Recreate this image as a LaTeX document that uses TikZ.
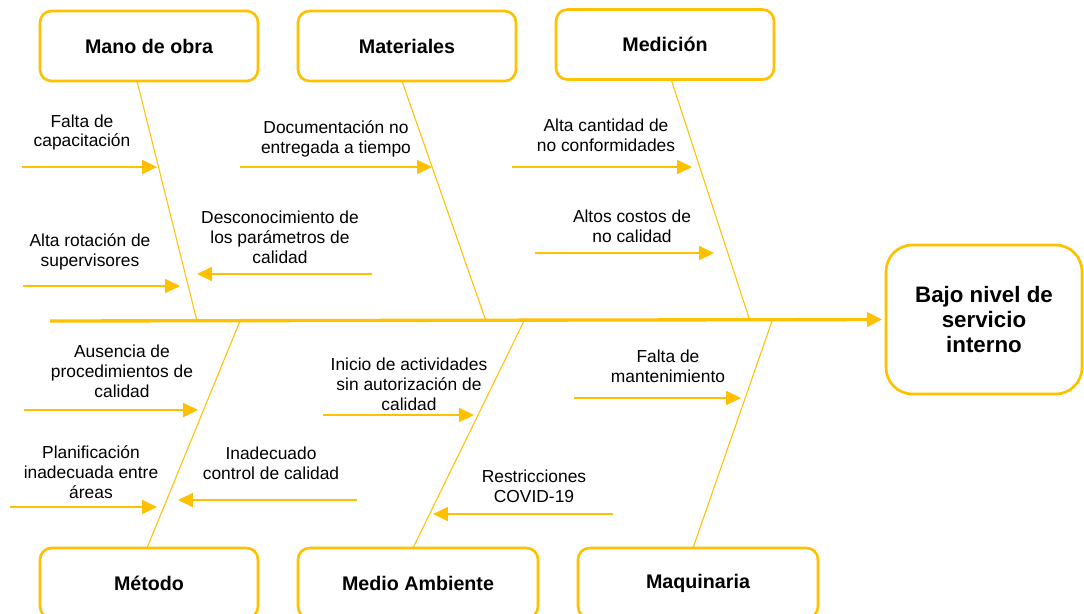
\documentclass[tikz,border=0pt]{standalone}
\usepackage{fontspec}
\setmainfont{Liberation Sans}
\usetikzlibrary{arrows.meta}
\definecolor{espina}{HTML}{FFC000}

\begin{document}
\begin{tikzpicture}[x=0.02cm,y=-0.02cm,
        caja/.style={draw=espina,line width=1.5pt,rounded corners=6.5pt,minimum width=4.36cm,minimum height=1.4cm,font=\fontsize{11.2}{13}\selectfont\bfseries},
        causa/.style={font=\fontsize{9.9}{11.3}\selectfont,align=center,inner sep=0pt},
        flecha/.style={espina,line width=0.8pt,-{Triangle[length=8.5pt,width=8pt]}},
        hueso/.style={espina,line width=0.6pt}]
            \useasboundingbox (0,0) rectangle (1084,613);
            % categorias
            \node[caja] (mano) at (149,46) {Mano de obra};
            \node[caja] (mate) at (407,46) {Materiales};
            \node[caja] (medi) at (665,44.5) {Medición};
            \node[caja] (meto) at (149,583) {Método};
            \node[caja,minimum width=4.8cm] (ambi) at (418,583) {Medio Ambiente};
            \node[caja,minimum width=4.8cm] (maqu) at (698,583) {Maquinaria};
            \node[caja,rounded corners=15pt,minimum width=3.92cm,minimum height=2.98cm,align=center,
                font=\fontsize{12.7}{14.2}\selectfont\bfseries] (efecto) at (984,319.5) {Bajo nivel de\\servicio\\interno};
            % espina central
            \coordinate (cola) at (50,321);
            \draw[espina,line width=1.9pt,-{Triangle[length=8.5pt,width=8pt]},shorten >=1.5pt] (cola) -- (efecto.west);
            % huesos
            \foreach \n/\xa/\ya/\xb in {1/137/81/197, 2/402/81/486, 3/671/79/750, 4/147/548/240, 5/413/548/524, 6/693/548/772}
            {
                \coordinate (q\n) at (\xa,\ya);
                \coordinate (p\n) at (\xb,321);
                \draw[hueso] (q\n) -- (p\n);
            }
            % causas
            \node[causa] (c1) at (82,132.5) {Falta de\\capacitación};
            \node[causa] (c2) at (90,251.5) {Alta rotación de\\supervisores};
            \node[causa] (c3) at (280,237) {Desconocimiento de\\los parámetros de\\calidad};
            \node[causa] (c4) at (336,138.5) {Documentación no\\entregada a tiempo};
            \node[causa] (c5) at (606,135.5) {Alta cantidad de\\no conformidades};
            \node[causa] (c6) at (632,226) {Altos costos de\\no calidad};
            \node[causa] (c7) at (122,371.5) {Ausencia de\\procedimientos de\\calidad};
            \node[causa] (c8) at (91,472.5) {Planificación\\inadecuada entre\\áreas};
            \node[causa] (c9) at (271,463.5) {Inadecuado\\control de calidad};
            \node[causa] (c10) at (409,384) {Inicio de actividades\\sin autorización de\\calidad};
            \node[causa] (c11) at (534,486) {Restricciones\\COVID-19};
            \node[causa] (c12) at (668,366) {Falta de\\mantenimiento};
            \foreach \n/\xa/\xb/\y in {1/22/157/167, 2/23/180/286, 3/372/197/274, 4/240/432/167, 5/512/692/167, 6/535/714/253,
                7/24/198/410, 8/10/157/507, 9/357/178/500, 10/323/474/415, 11/613/433/514, 12/574/741/398}
            {
                \coordinate (s\n) at (\xa,\y);
                \coordinate (t\n) at (\xb,\y);
                \draw[flecha] (s\n) -- (t\n);
            }
\end{tikzpicture}
\end{document}
